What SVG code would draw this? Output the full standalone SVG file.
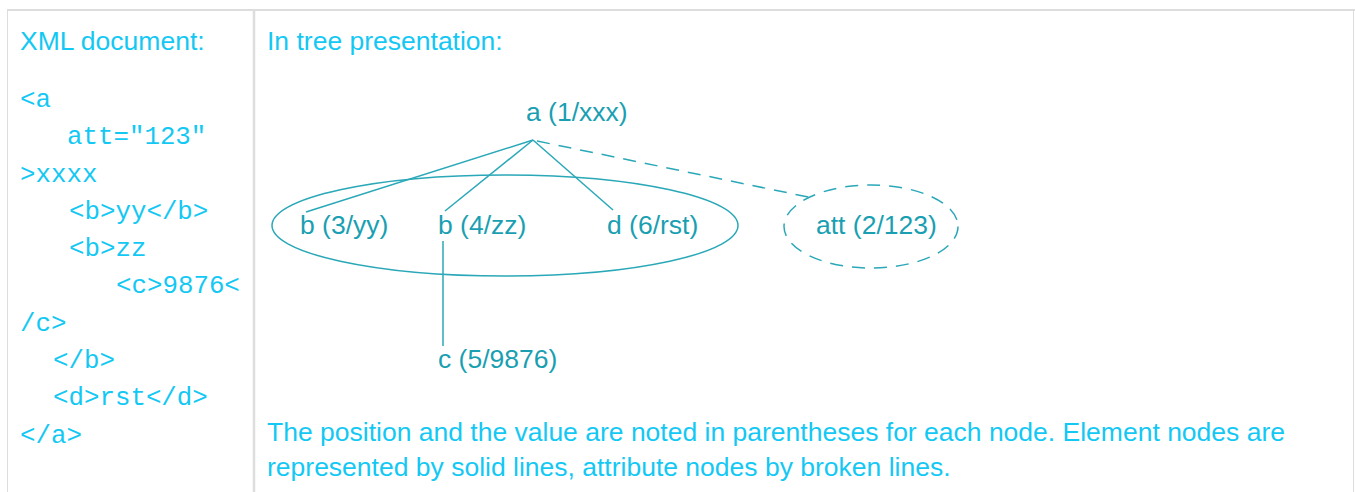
<svg xmlns="http://www.w3.org/2000/svg" width="1355" height="492" viewBox="0 0 1355 492">
  <style>
    .frame { stroke: #dddddd; fill: none; }
    .head { font-family: "Liberation Sans", Arial, sans-serif; font-size: 26.5px; fill: #14c8f4; }
    .code { font-family: "Liberation Mono", "Courier New", monospace; font-size: 25.8px; fill: #14c8f4; }
    .lbl { font-family: "Liberation Sans", Arial, sans-serif; font-size: 26.5px; fill: #1a9fb2; }
    .edge { stroke: #2aa8b8; stroke-width: 1.5; fill: none; }
    .dash { stroke-dasharray: 13 9; }
  </style>
  <rect width="1355" height="492" fill="#ffffff"/>

  <!-- table frame -->
  <g id="frame">
    <line class="frame" x1="7" y1="10" x2="1355" y2="10" stroke-width="2"/>
    <line class="frame" x1="7.5" y1="10" x2="7.5" y2="492" stroke-width="1"/>
    <line class="frame" x1="254" y1="10" x2="254" y2="492" stroke-width="2.5"/>
    <line class="frame" x1="1353.5" y1="10" x2="1353.5" y2="492" stroke-width="1"/>
  </g>

  <!-- left column: source listing -->
  <g id="source">
    <text class="head" x="20" y="50">XML document:</text>
    <text class="code" x="20" y="107">&lt;a</text>
    <text class="code" x="67" y="144">att="123"</text>
    <text class="code" x="20" y="182">&gt;xxxx</text>
    <text class="code" x="69" y="219">&lt;b&gt;yy&lt;/b&gt;</text>
    <text class="code" x="69" y="256">&lt;b&gt;zz</text>
    <text class="code" x="116" y="293">&lt;c&gt;9876&lt;</text>
    <text class="code" x="20" y="331">/c&gt;</text>
    <text class="code" x="53" y="368">&lt;/b&gt;</text>
    <text class="code" x="53" y="405">&lt;d&gt;rst&lt;/d&gt;</text>
    <text class="code" x="20" y="443">&lt;/a&gt;</text>
  </g>

  <text class="head" x="267" y="50">In tree presentation:</text>

  <!-- connectors -->
  <g id="connectors">
    <line class="edge" x1="533" y1="140" x2="306" y2="212"/>
    <line class="edge" x1="533" y1="140" x2="445" y2="211"/>
    <line class="edge" x1="533" y1="140" x2="613" y2="210"/>
    <line class="edge dash" x1="537" y1="141" x2="813" y2="198"/>
    <line class="edge" x1="443" y1="241" x2="443" y2="346"/>
  </g>

  <!-- grouping of element children -->
  <ellipse id="children" class="edge" cx="505" cy="225.5" rx="233" ry="50.5"/>

  <g id="node-a">
    <text class="lbl" x="526" y="121">a (1/xxx)</text>
  </g>
  <g id="node-b3">
    <text class="lbl" x="300" y="234">b (3/yy)</text>
  </g>
  <g id="node-b4">
    <text class="lbl" x="438" y="234">b (4/zz)</text>
  </g>
  <g id="node-d">
    <text class="lbl" x="607" y="234">d (6/rst)</text>
  </g>
  <g id="node-att">
    <ellipse class="edge dash" cx="871" cy="226.5" rx="87" ry="41.5"/>
    <text class="lbl" x="816" y="234">att (2/123)</text>
  </g>
  <g id="node-c">
    <text class="lbl" x="438" y="368">c (5/9876)</text>
  </g>

  <!-- caption -->
  <g id="caption">
    <text class="head" x="267" y="441">The position and the value are noted in parentheses for each node. Element nodes are</text>
    <text class="head" x="267" y="476">represented by solid lines, attribute nodes by broken lines.</text>
  </g>
</svg>
